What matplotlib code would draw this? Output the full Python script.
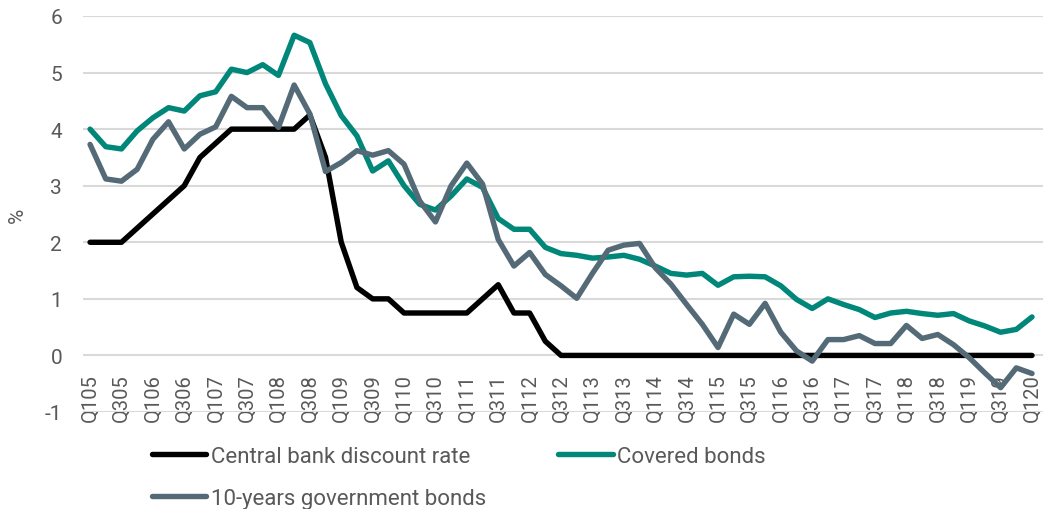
import numpy as np
import matplotlib.pyplot as plt

# quarterly, Q1 2005 .. Q1 2020
quarters = [f"Q{q}{y:02d}" for y in range(5, 21) for q in (1, 2, 3, 4)][:61]
tick_labels = quarters[::2]

central_bank = [2.0, 2.0, 2.0, 2.25, 2.5, 2.75, 3.0, 3.5, 3.75, 4.0,
                4.0, 4.0, 4.0, 4.0, 4.25, 3.5, 2.0, 1.2, 1.0, 1.0,
                0.75, 0.75, 0.75, 0.75, 0.75, 1.0, 1.25, 0.75, 0.75, 0.25,
                0.0, 0.0, 0.0, 0.0, 0.0, 0.0, 0.0, 0.0, 0.0, 0.0,
                0.0, 0.0, 0.0, 0.0, 0.0, 0.0, 0.0, 0.0, 0.0, 0.0,
                0.0, 0.0, 0.0, 0.0, 0.0, 0.0, 0.0, 0.0, 0.0, 0.0, 0.0]
covered = [4.0, 3.69, 3.65, 3.97, 4.2, 4.38, 4.32, 4.59, 4.66, 5.06,
           5.0, 5.14, 4.95, 5.66, 5.53, 4.8, 4.24, 3.88, 3.26, 3.44,
           3.0, 2.67, 2.57, 2.82, 3.12, 2.97, 2.42, 2.23, 2.23, 1.91,
           1.8, 1.77, 1.72, 1.74, 1.77, 1.7, 1.58, 1.45, 1.42, 1.45,
           1.24, 1.39, 1.4, 1.39, 1.23, 0.99, 0.83, 1.0, 0.9, 0.81,
           0.67, 0.75, 0.78, 0.74, 0.71, 0.74, 0.61, 0.52, 0.41, 0.46, 0.68]
government = [3.73, 3.12, 3.08, 3.29, 3.82, 4.13, 3.65, 3.91, 4.04, 4.58,
              4.38, 4.38, 4.03, 4.78, 4.27, 3.25, 3.41, 3.62, 3.54, 3.62,
              3.38, 2.73, 2.36, 3.0, 3.4, 3.03, 2.05, 1.58, 1.82, 1.43,
              1.23, 1.01, 1.45, 1.86, 1.95, 1.98, 1.55, 1.26, 0.9, 0.55,
              0.14, 0.73, 0.55, 0.92, 0.41, 0.08, -0.1, 0.28, 0.28, 0.35,
              0.21, 0.21, 0.53, 0.3, 0.37, 0.19, -0.04, -0.31, -0.57, -0.22, -0.32]

TXT = '#595959'
plt.rcParams['font.family'] = ['Roboto', 'DejaVu Sans']
plt.rcParams['axes.unicode_minus'] = False

fig = plt.figure(figsize=(10.52, 5.10), dpi=100)
ax = fig.add_axes([83/1052, 1 - 413/510, 960/1052, 396/510])

x = np.arange(len(quarters))
lw = 3.9
l1, = ax.plot(x, central_bank, color='black', lw=lw, solid_capstyle='round',
              label='Central bank discount rate', zorder=3)
l2, = ax.plot(x, covered, color='#00877a', lw=lw, solid_capstyle='round',
              label='Covered bonds', zorder=4)
l3, = ax.plot(x, government, color='#546b77', lw=lw, solid_capstyle='round',
              label='10-years government bonds', zorder=5)

ax.set_xlim(-0.45, 60.7)
ax.set_ylim(-1, 6)
ax.set_yticks(range(-1, 7))
ax.yaxis.grid(True, color='#d9d9d9', lw=1.5)
ax.set_axisbelow(True)
for s in ax.spines.values():
    s.set_visible(False)

# category labels hang under the zero line
ax.spines['bottom'].set_position(('data', 0))
ax.set_xticks(x[::2])
ax.set_xticklabels(tick_labels, rotation=90, va='top', ha='center')
ax.tick_params(axis='x', length=0, pad=12.5, labelsize=14.5, labelcolor=TXT)
ax.tick_params(axis='y', length=0, pad=15, labelsize=15, labelcolor=TXT)

ax.set_ylabel('%', fontsize=15, color=TXT)
ax.yaxis.set_label_coords(-0.058, 0.5)

fig.legend(handles=[l1, l3, l2], loc='upper left', bbox_to_anchor=(152/1052, 1 - 447/510),
           ncol=2, frameon=False, fontsize=16, labelcolor=TXT,
           handlelength=2.45, handletextpad=0.2, labelspacing=0.95,
           columnspacing=3.25, borderpad=0, borderaxespad=0)

fig.savefig('out.png', dpi=100)
